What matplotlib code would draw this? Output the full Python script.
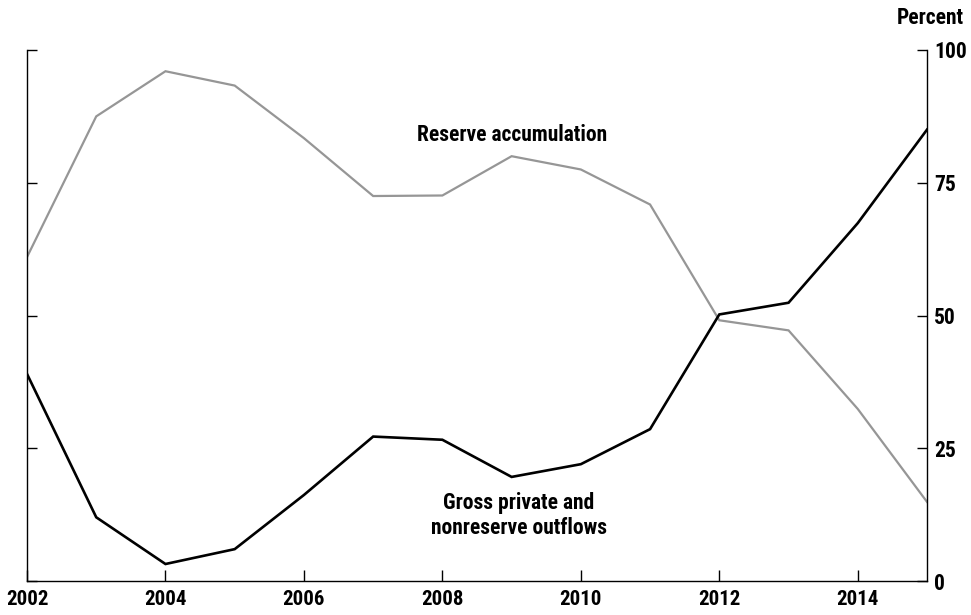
import matplotlib
matplotlib.use("Agg")
import matplotlib.pyplot as plt
from matplotlib import font_manager

years = list(range(2002, 2016))
reserve = [61.0, 87.5, 96.0, 93.3, 83.4, 72.5, 72.6, 80.0, 77.5, 70.9, 49.1, 47.2, 32.4, 14.9]
gross = [39.0, 12.0, 3.2, 6.0, 16.2, 27.2, 26.6, 19.6, 22.0, 28.6, 50.2, 52.4, 67.4, 85.0]
xticks = list(range(2002, 2016, 2))
yticks = [0, 25, 50, 75, 100]

names = {f.name for f in font_manager.fontManager.ttflist}
fam = [f for f in ["Liberation Sans Narrow", "Roboto Condensed", "Liberation Sans"] if f in names]
plt.rcParams["font.family"] = fam + ["DejaVu Sans"]
plt.rcParams["font.weight"] = "bold"

fig = plt.figure(figsize=(9.71, 6.15), dpi=100)
ax = fig.add_axes([27/971, 1 - 581/615, 900/971, 531/615])

ax.plot(years, reserve, color="#969696", lw=1.6, solid_joinstyle="miter")
ax.plot(years, gross, color="black", lw=1.9, solid_joinstyle="miter")

ax.set_xlim(2002, 2015)
ax.set_ylim(0, 100)
ax.spines["top"].set_visible(False)
for s in ("left", "right", "bottom"):
    ax.spines[s].set_linewidth(1.0)

ax.set_xticks(xticks)
ax.set_xticklabels([str(y) for y in xticks])
ax.tick_params(axis="x", direction="in", length=8, width=1.0, pad=6.5, labelsize=15)
ax.set_yticks(yticks)
ax.tick_params(axis="y", direction="in", length=7, width=1.0, left=True, right=True,
               labelleft=False, labelright=True, pad=5, labelsize=15.5)
for lbl in ax.get_yticklabels():
    lbl.set_horizontalalignment("left")

ax.text(2009.0, 84, "Reserve accumulation", ha="center", va="center", fontsize=15.5)
ax.text(2009.1, 12.3, "Gross private and\nnonreserve outflows", ha="center", va="center",
        fontsize=15.5, linespacing=1.15)
fig.text(964/971, 1 - 18/615, "Percent", ha="right", va="center", fontsize=15.5)

fig.savefig("out.png", dpi=100)
